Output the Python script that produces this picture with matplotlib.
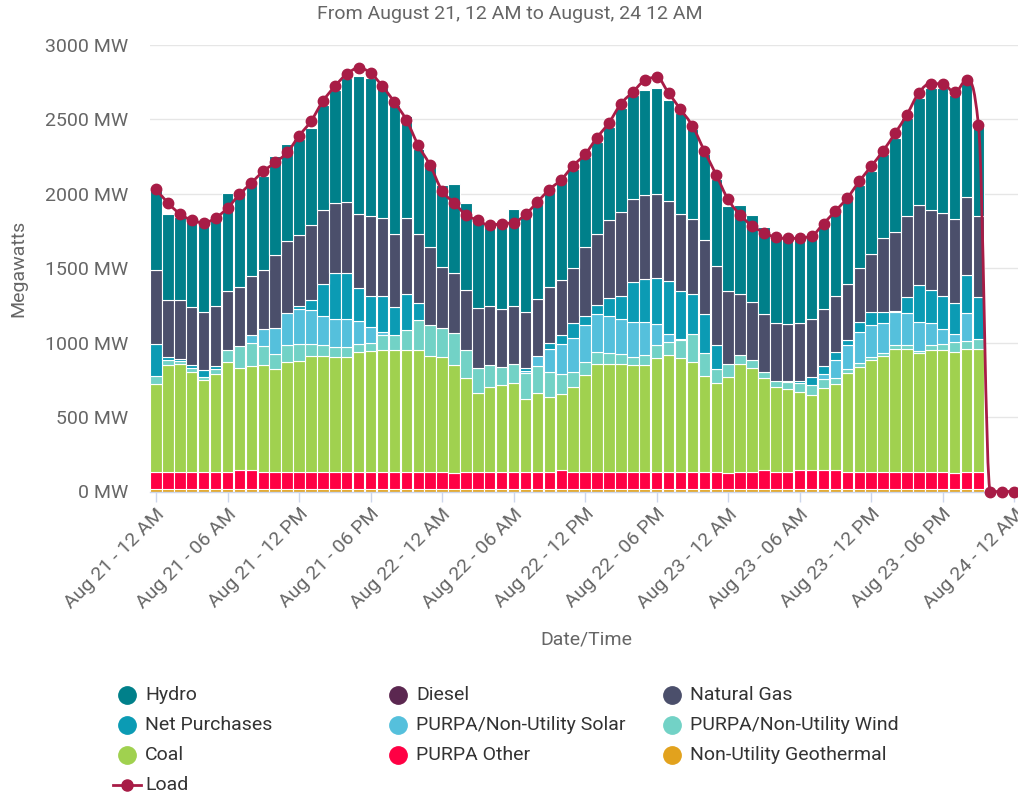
import numpy as np
import matplotlib
matplotlib.use("Agg")
import matplotlib.pyplot as plt
from matplotlib.path import Path
from matplotlib.patches import PathPatch
from matplotlib.lines import Line2D
from matplotlib.transforms import ScaledTranslation

plt.rcParams['font.family'] = ['Roboto', 'DejaVu Sans']

# ---------------- data (hourly, Aug 21 12 AM -> Aug 24 12 AM) ----------------
tick_hours = list(range(0, 73, 6))
tick_labels = ["Aug 21 - 12 AM", "Aug 21 - 06 AM", "Aug 21 - 12 PM", "Aug 21 - 06 PM",
               "Aug 22 - 12 AM", "Aug 22 - 06 AM", "Aug 22 - 12 PM", "Aug 22 - 06 PM",
               "Aug 23 - 12 AM", "Aug 23 - 06 AM", "Aug 23 - 12 PM", "Aug 23 - 06 PM",
               "Aug 24 - 12 AM"]
ytick_values = [0, 500, 1000, 1500, 2000, 2500, 3000]

geothermal = [15] * 70
purpa_other = [116, 116, 116, 116, 116, 116, 116, 129, 129, 116,
               116, 116, 116, 116, 116, 116, 116, 116, 116, 116,
               116, 116, 116, 116, 116, 107, 116, 116, 116, 116,
               116, 116, 116, 116, 129, 116, 116, 116, 116, 116,
               116, 116, 116, 116, 116, 116, 116, 116, 107, 116,
               116, 129, 116, 116, 129, 129, 129, 129, 116, 116,
               116, 116, 116, 116, 116, 116, 116, 107, 116, 116]
coal = [594, 719, 726, 670, 621, 661, 739, 688, 697, 719,
        690, 737, 748, 777, 780, 773, 773, 809, 811, 820,
        818, 818, 818, 780, 773, 730, 634, 531, 571, 583,
        596, 493, 531, 504, 511, 571, 650, 728, 728, 728,
        721, 721, 768, 784, 768, 739, 645, 596, 650, 724,
        701, 621, 574, 558, 525, 502, 554, 581, 663, 708,
        751, 777, 827, 827, 797, 820, 820, 818, 824, 824]
wind = [49, 36, 18, 27, 17, 34, 81, 148, 159, 128,
        101, 114, 114, 85, 71, 67, 67, 49, 56, 101,
        103, 134, 204, 206, 197, 211, 184, 168, 150, 120,
        132, 174, 179, 168, 135, 101, 89, 78, 70, 65,
        50, 68, 83, 90, 117, 191, 155, 99, 85, 60,
        50, 38, 38, 49, 58, 72, 60, 40, 32, 27,
        22, 25, 24, 24, 14, 31, 42, 65, 56, 68]
solar = [0, 0, 0, 0, 0, 0, 0, 0, 50, 116,
         177, 215, 233, 227, 197, 186, 186, 155, 105, 18,
         0, 0, 0, 0, 0, 0, 0, 0, 0, 0,
         0, 14, 70, 152, 201, 231, 247, 254, 250, 237,
         237, 219, 146, 51, 11, 0, 0, 0, 0, 0,
         0, 0, 0, 0, 0, 0, 34, 117, 156, 206,
         213, 197, 226, 215, 197, 148, 97, 53, 186, 0]
net_purchases = [215, 16, 15, 24, 47, 20, 0, 0, 0, 0,
                 0, 0, 18, 67, 218, 309, 309, 224, 211, 244,
                 190, 244, 114, 0, 0, 0, 0, 0, 0, 0,
                 0, 20, 0, 45, 59, 101, 60, 60, 121, 153,
                 269, 291, 307, 361, 320, 269, 260, 156, 0, 0,
                 0, 0, 0, 5, 16, 52, 49, 55, 38, 67,
                 89, 76, 5, 110, 246, 224, 224, 207, 258, 284]
natural_gas = [500, 385, 397, 388, 390, 398, 396, 394, 396, 397,
               493, 486, 477, 506, 497, 475, 480, 499, 537, 526,
               491, 513, 461, 526, 408, 403, 407, 401, 392, 395,
               385, 374, 385, 374, 374, 369, 466, 482, 522, 564,
               560, 563, 567, 533, 520, 504, 497, 531, 493, 415,
               391, 388, 392, 385, 387, 392, 388, 377, 377, 365,
               388, 500, 531, 544, 538, 535, 555, 564, 524, 544]
diesel = [0] * 70
hydro = [536, 580, 558, 582, 583, 578, 658, 655, 610, 631,
         659, 655, 646, 651, 706, 759, 832, 922, 927, 871,
         867, 682, 572, 557, 553, 598, 582, 591, 534, 560,
         652, 656, 637, 637, 654, 663, 602, 616, 629, 700,
         699, 707, 709, 683, 673, 604, 579, 587, 566, 597,
         583, 587, 569, 572, 574, 556, 551, 564, 563, 552,
         562, 561, 634, 656, 722, 822, 842, 838, 765, 616]
load = [2033, 1938, 1867, 1822, 1807, 1838, 1905, 1996, 2073, 2151,
        2211, 2278, 2389, 2489, 2622, 2722, 2804, 2844, 2811, 2722,
        2616, 2496, 2327, 2191, 2022, 1940, 1860, 1822, 1789, 1800,
        1807, 1862, 1945, 2029, 2096, 2189, 2267, 2378, 2478, 2604,
        2684, 2762, 2782, 2678, 2567, 2456, 2289, 2127, 1962, 1860,
        1785, 1740, 1707, 1700, 1704, 1718, 1800, 1885, 1973, 2084,
        2185, 2289, 2407, 2533, 2678, 2740, 2740, 2682, 2762, 2460,
        0, 0, 0]

# ---------------- styling ----------------
C_HYDRO = "#00808a"
C_DIESEL = "#5b2750"
C_GAS = "#4b4f6b"
C_NP = "#0b9bb4"
C_SOLAR = "#55c0dc"
C_WIND = "#72d2c6"
C_COAL = "#a0d14f"
C_OTHER = "#ff0044"
C_GEO = "#e2a21d"
C_LOAD = "#a81c46"
TXT = "#666666"
LEG_TXT = "#333333"
FS = 14.0

W, H = 1018, 797
fig = plt.figure(figsize=(W / 100, H / 100), dpi=100)
ax_left, ax_right, ax_top, ax_bot = 150, 1018, 45, 491.5
ax = fig.add_axes([ax_left / W, 1 - ax_bot / H, (ax_right - ax_left) / W, (ax_bot - ax_top) / H])

px_per_hour = 11.92
ax.set_xlim(-(156 - ax_left) / px_per_hour, (ax_right - 156) / px_per_hour)
ax.set_ylim(0, 3000)

# stacked columns (bottom to top)
stack = [(geothermal, C_GEO), (purpa_other, C_OTHER), (coal, C_COAL), (wind, C_WIND),
         (solar, C_SOLAR), (net_purchases, C_NP), (natural_gas, C_GAS), (diesel, C_DIESEL),
         (hydro, C_HYDRO)]
x_bar = np.arange(len(hydro))
bottom = np.zeros(len(hydro))
for vals, col in stack:
    v = np.asarray(vals, dtype=float)
    mask = v > 0
    ax.bar(x_bar[mask], v[mask], bottom=bottom[mask], width=0.96, color=col,
           edgecolor="white", linewidth=0.8, zorder=2)
    bottom += v

# load as Highcharts-style spline
x_load = np.arange(len(load), dtype=float)
y_load = np.asarray(load, dtype=float)


def spline_path(xs, ys, smoothing=1.5):
    n = len(xs)
    denom = smoothing + 1
    rc = [None] * n
    lc = [None] * n
    for i in range(1, n - 1):
        px, py = xs[i], ys[i]
        lx, ly = xs[i - 1], ys[i - 1]
        nx, ny = xs[i + 1], ys[i + 1]
        lcx = (smoothing * px + lx) / denom
        lcy = (smoothing * py + ly) / denom
        rcx = (smoothing * px + nx) / denom
        rcy = (smoothing * py + ny) / denom
        corr = 0.0
        if rcx != lcx:
            corr = (rcy - lcy) * (rcx - px) / (rcx - lcx) + py - rcy
        lcy += corr
        rcy += corr
        if lcy > ly and lcy > py:
            lcy = max(ly, py); rcy = 2 * py - lcy
        elif lcy < ly and lcy < py:
            lcy = min(ly, py); rcy = 2 * py - lcy
        if rcy > ny and rcy > py:
            rcy = max(ny, py); lcy = 2 * py - rcy
        elif rcy < ny and rcy < py:
            rcy = min(ny, py); lcy = 2 * py - rcy
        lc[i] = (lcx, lcy)
        rc[i] = (rcx, rcy)
    verts = [(xs[0], ys[0])]
    codes = [Path.MOVETO]
    for i in range(1, n):
        c1 = rc[i - 1] if rc[i - 1] is not None else (xs[i - 1], ys[i - 1])
        c2 = lc[i] if lc[i] is not None else (xs[i], ys[i])
        verts += [c1, c2, (xs[i], ys[i])]
        codes += [Path.CURVE4] * 3
    return Path(verts, codes)


ax.add_patch(PathPatch(spline_path(x_load, y_load), fill=False, edgecolor=C_LOAD,
                       linewidth=2.0, zorder=4, clip_on=False, capstyle="round"))
ax.plot(x_load, y_load, linestyle="none", marker="o", markersize=7.5, color=C_LOAD,
        zorder=5, clip_on=False)

# axes styling
for s in ["top", "right", "left"]:
    ax.spines[s].set_visible(False)
ax.spines["bottom"].set_color("#ccd6eb")
ax.spines["bottom"].set_linewidth(1.0)
ax.set_yticks(ytick_values)
ax.set_yticklabels([f"{v} MW" for v in ytick_values])
ax.yaxis.grid(True, color="#e6e6e6", linewidth=1.0)
ax.set_axisbelow(True)
ax.tick_params(axis="y", length=0, pad=16, labelsize=FS, labelcolor=TXT)
ax.set_xticks(tick_hours)
ax.set_xticklabels(tick_labels)
ax.tick_params(axis="x", length=7.2, width=1, color="#ccd6eb", pad=7,
               labelsize=FS, labelcolor=TXT)
offset = ScaledTranslation(6 / 100, 0, fig.dpi_scale_trans)
for lbl in ax.get_xticklabels():
    lbl.set_rotation(45)
    lbl.set_ha("right")
    lbl.set_va("center")
    lbl.set_rotation_mode("anchor")
    lbl.set_transform(lbl.get_transform() + offset)

# titles
fig.text(510 / W, 1 - 14 / H, "From August 21, 12 AM to August, 24 12 AM",
         ha="center", va="center", fontsize=FS, color=TXT)
fig.text(586 / W, 1 - 639 / H, "Date/Time", ha="center", va="center", fontsize=FS, color=TXT)
fig.text(18 / W, 1 - 268 / H, "Megawatts", ha="center", va="center", rotation=90,
         fontsize=FS, color=TXT)

# legend (3 columns, row-major like the original)
legend_items = [("Hydro", C_HYDRO), ("Diesel", C_DIESEL), ("Natural Gas", C_GAS),
                ("Net Purchases", C_NP), ("PURPA/Non-Utility Solar", C_SOLAR),
                ("PURPA/Non-Utility Wind", C_WIND), ("Coal", C_COAL),
                ("PURPA Other", C_OTHER), ("Non-Utility Geothermal", C_GEO)]
col_marker_x = [127, 398, 672]
row_y = [695, 725, 755, 785]
for k, (name, col) in enumerate(legend_items):
    r, c = divmod(k, 3)
    mx, my = col_marker_x[c], row_y[r]
    fig.add_artist(Line2D([mx / W], [1 - my / H], marker="o", markersize=12.5, color=col,
                          linestyle="none", transform=fig.transFigure))
    fig.text((mx + 18) / W, 1 - my / H, name, ha="left", va="center", fontsize=FS, color=LEG_TXT)
# load legend entry
my = row_y[3]
fig.add_artist(Line2D([113 / W, 141 / W], [1 - my / H, 1 - my / H], color=C_LOAD, linewidth=2.0,
                      transform=fig.transFigure))
fig.add_artist(Line2D([127 / W], [1 - my / H], marker="o", markersize=8, color=C_LOAD,
                      linestyle="none", transform=fig.transFigure))
fig.text(145 / W, 1 - my / H, "Load", ha="left", va="center", fontsize=FS, color=LEG_TXT)

fig.savefig("out.png", dpi=100)
